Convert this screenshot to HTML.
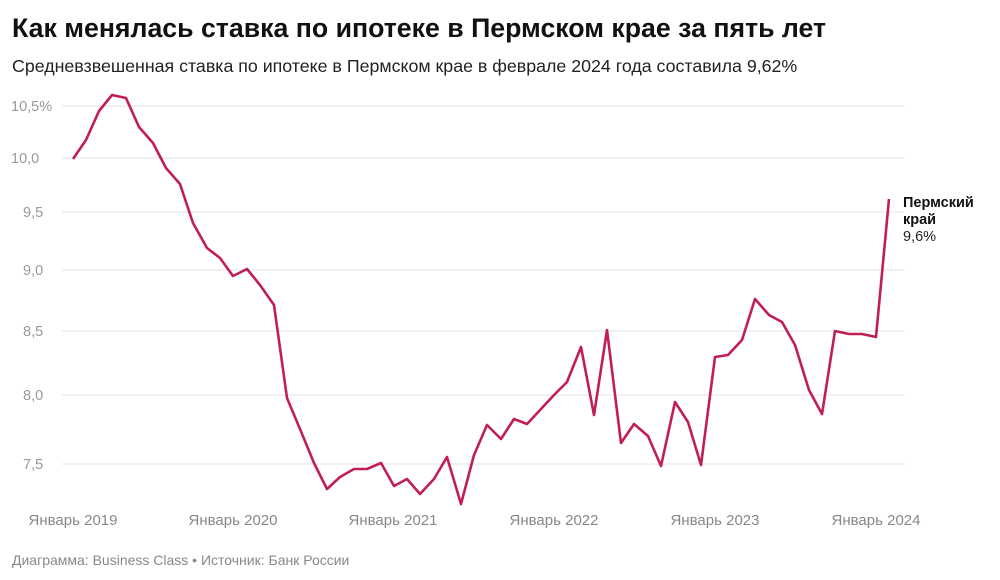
<!DOCTYPE html>
<html><head><meta charset="utf-8"><style>
body{margin:0;background:#fff;font-family:"Liberation Sans",sans-serif;}
.w{position:relative;width:1000px;height:580px;overflow:hidden;}
</style></head><body><div class="w">
<svg width="1000" height="580" style="position:absolute;left:0;top:0">
<text x="12" y="37" font-size="26.7" font-weight="bold" fill="#111">Как менялась ставка по ипотеке в Пермском крае за пять лет</text>
<text x="12" y="72" font-size="17.8" fill="#222">Средневзвешенная ставка по ипотеке в Пермском крае в феврале 2024 года составила 9,62%</text>
<g stroke="#e3e3e3" stroke-width="1">
<line x1="62" x2="905" y1="106" y2="106"/><line x1="62" x2="905" y1="158" y2="158"/>
<line x1="62" x2="905" y1="212" y2="212"/><line x1="62" x2="905" y1="270" y2="270"/>
<line x1="62" x2="905" y1="331" y2="331"/><line x1="62" x2="905" y1="395" y2="395"/>
<line x1="62" x2="905" y1="464" y2="464"/>
</g>
<g font-size="14.5" fill="#999">
<text x="11" y="111">10,5%</text><text x="11" y="163">10,0</text><text x="23" y="217">9,5</text>
<text x="23" y="275">9,0</text><text x="23" y="336">8,5</text><text x="23" y="400">8,0</text><text x="23" y="469">7,5</text>
</g>
<g font-size="15" fill="#888" text-anchor="middle">
<text x="73" y="525">Январь 2019</text><text x="233" y="525">Январь 2020</text><text x="393" y="525">Январь 2021</text>
<text x="554" y="525">Январь 2022</text><text x="715" y="525">Январь 2023</text><text x="876" y="525">Январь 2024</text>
</g>
<polyline fill="none" stroke="#c21e56" stroke-width="2.6" stroke-linejoin="round" points="73,159 86,140 99,111 112,95 126,98 139,127 153,143 166,168 180,184 193,223 207,248 220,258 233,276 247,269 260,285 274,305 287,398 300,429 314,463 327,489 340,477 354,469 367,469 381,463 394,486 407,479 420,494 434,479 447,457 461,504 474,455 487,425 501,439 514,419 527,424 541,409 554,395 567,382 581,347 594,415 607,330 621,443 634,424 648,436 661,466 675,402 688,422 701,465 715,357 728,355 742,340 755,299 769,315 782,322 795,345 809,390 822,414 835,331 849,334 862,334 876,337 889,199"/>
<text x="903" y="207" font-size="14.5" font-weight="bold" fill="#111">Пермский</text>
<text x="903" y="224" font-size="14.5" font-weight="bold" fill="#111">край</text>
<text x="903" y="241" font-size="14.5" fill="#222">9,6%</text>
<text x="12" y="565" font-size="14" fill="#888">Диаграмма: Business Class • Источник: Банк России</text>
</svg>
</div></body></html>
